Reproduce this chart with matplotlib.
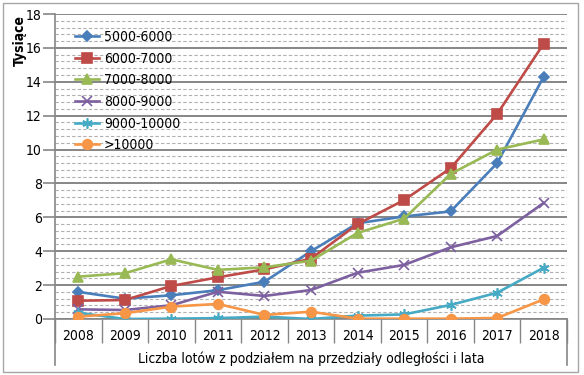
import matplotlib
matplotlib.use("Agg")
import matplotlib.pyplot as plt
import numpy as np
from matplotlib.patches import Rectangle

plt.rcParams['font.family'] = ['DejaVu Sans']
plt.rcParams['font.stretch'] = 'condensed'

years = ['2008', '2009', '2010', '2011', '2012', '2013', '2014', '2015', '2016', '2017', '2018']
s5000 = [1.6, 1.2, 1.4, 1.7, 2.2, 4.0, 5.65, 6.05, 6.35, 9.2, 14.3]
s6000 = [1.08, 1.12, 1.95, 2.46, 2.93, 3.56, 5.6, 7.02, 8.9, 12.1, 16.25]
s7000 = [2.5, 2.7, 3.52, 2.9, 3.05, 3.44, 5.08, 5.92, 8.56, 10.0, 10.6]
s8000 = [0.57, 0.53, 0.81, 1.61, 1.36, 1.71, 2.73, 3.19, 4.23, 4.9, 6.85]
s9000 = [0.37, 0.0, 0.02, 0.05, 0.14, 0.0, 0.2, 0.27, 0.83, 1.55, 3.03]
s10000 = [0.14, 0.34, 0.73, 0.89, 0.24, 0.43, 0.02, 0.02, 0.02, 0.06, 1.16]

labels = ['5000-6000', '6000-7000', '7000-8000', '8000-9000', '9000-10000', '>10000']
colors = ['#4A7EBB', '#BE4B48', '#98B954', '#7D60A0', '#46AAC5', '#F79646']
markers = ['D', 's', '^', 'x', (6, 2, 0), 'o']
msizes = [5.5, 7.5, 7.5, 6.5, 7.5, 7]

W, H = 584, 375
fig = plt.figure(figsize=(W / 100, H / 100), dpi=100)
ax = fig.add_axes([55 / W, 1 - 319 / H, (567 - 55) / W, (319 - 14) / H])

x = np.arange(len(years))
for vals, lab, c, m, ms in zip([s5000, s6000, s7000, s8000, s9000, s10000],
                               labels, colors, markers, msizes):
    ax.plot(x, vals, color=c, lw=1.9, marker=m, ms=ms, mec=c, mfc=c,
            mew=1.2, label=lab, zorder=3)

ax.set_xlim(-0.5, len(years) - 0.5)
ax.set_ylim(0, 18)

# y axis: major every 2, minor dashed every 0.4
ax.set_yticks(np.arange(0, 19, 2))
ax.set_yticks(np.arange(0, 18.01, 0.4), minor=True)
ax.grid(axis='y', which='major', color='#868686', lw=1.4, zorder=1)
ax.grid(axis='y', which='minor', color='#B0B0B0', lw=0.8, ls=(0, (3, 2)), zorder=1)
ax.tick_params(axis='y', which='major', length=8.5, width=1.2, color='#868686',
               pad=1, labelsize=10)
ax.tick_params(axis='y', which='minor', length=0)

# x axis as category table
ax.set_xticks(np.arange(-0.5, len(years), 1))
ax.set_xticklabels([])
ax.set_xticks(x, minor=True)
ax.set_xticklabels(years, minor=True)
ax.tick_params(axis='x', which='major', direction='out', length=17.5, width=1,
               color='#868686')
ax.tick_params(axis='x', which='minor', length=0, pad=7, labelsize=10)

for side in ['top', 'right']:
    ax.spines[side].set_visible(False)
ax.spines['left'].set_color('#868686')
ax.spines['bottom'].set_color('#868686')
ax.spines['left'].set_linewidth(1.2)
ax.spines['bottom'].set_linewidth(1.2)

low = -(365 - 319) / (319 - 14)
for xa in (0, 1):
    ax.plot([xa, xa], [0, low], transform=ax.transAxes, color='#868686',
            lw=1.2, clip_on=False)

ax.text(0.5, -(359 - 319) / (319 - 14), 'Liczba lotów z podziałem na przedziały odległości i lata',
        transform=ax.transAxes, ha='center', va='center', fontsize=10)

fig.text(20 / W, 1 - 40 / H, 'Tysiące', rotation=90, ha='center', va='center',
         fontsize=10, fontweight='bold')

ax.legend(loc='upper left', bbox_to_anchor=(0.022, 0.975), frameon=False,
          fontsize=10, handlelength=1.75, handletextpad=0.35, labelspacing=0.55,
          borderaxespad=0.2)

fig.patches.append(Rectangle((3 / W, 3 / H), (578 - 3) / W, (372 - 3) / H,
                             transform=fig.transFigure, fill=False,
                             ec='#A6A6A6', lw=1.0))

fig.savefig('out.png', dpi=100)
